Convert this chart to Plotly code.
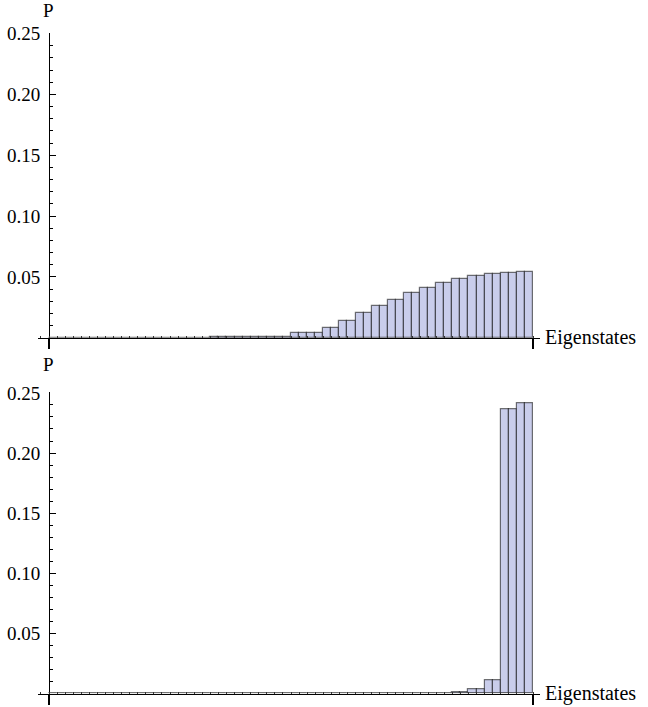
import plotly.graph_objects as go

# ---------------- data ----------------
states = list(range(1, 61))  # eigenstate index

p_top = ([0.0] * 20 +
         [0.0002, 0.0002, 0.0002, 0.0002,
          0.0004, 0.0004,
          0.0008, 0.0008, 0.0008, 0.0008,
          0.0036, 0.0036, 0.0036, 0.0036,
          0.0083, 0.0083,
          0.0140, 0.0140,
          0.0200, 0.0200,
          0.0258, 0.0258,
          0.0314, 0.0314,
          0.0366, 0.0366,
          0.0411, 0.0411,
          0.0452, 0.0452,
          0.0481, 0.0481,
          0.0507, 0.0507,
          0.0527, 0.0527,
          0.0535, 0.0535,
          0.0540, 0.0540])

p_bottom = ([0.0] * 46 +
            [0.0002, 0.0002, 0.0002, 0.0002,
             0.0010, 0.0010,
             0.0037, 0.0037,
             0.0112, 0.0112,
             0.2360, 0.2360,
             0.2417, 0.2417])

y_tickvals = [0.05, 0.10, 0.15, 0.20, 0.25]
y_ticktext = ["0.05", "0.10", "0.15", "0.20", "0.25"]

# ---------------- style ----------------
W, H = 648, 707
FONT = "Liberation Serif, Times New Roman, serif"
FILL = "rgb(201,205,235)"
EDGE = "rgba(0,0,0,0.55)"

fig = go.Figure()

x_pos = [s - 0.5 for s in states]

fig.add_trace(go.Bar(x=x_pos, y=p_top, width=1, marker=dict(color=FILL, line=dict(color=EDGE, width=1.2)),
                     xaxis="x", yaxis="y", showlegend=False, hoverinfo="skip"))
fig.add_trace(go.Bar(x=x_pos, y=p_bottom, width=1, marker=dict(color=FILL, line=dict(color=EDGE, width=1.2)),
                     xaxis="x2", yaxis="y2", showlegend=False, hoverinfo="skip"))

x_left_px, x_right_px = 38, 540
y_axis_px = 49
bar0_px, bar60_px = 49, 533
ppu = (bar60_px - bar0_px) / 60.0
xr = [-(bar0_px - x_left_px) / ppu, 60 + (x_right_px - bar60_px) / ppu]

def xaxis_cfg(anchor):
    return dict(domain=[x_left_px / W, x_right_px / W], range=xr, anchor=anchor,
                showline=True, linecolor="black", linewidth=1, zeroline=False, showgrid=False,
                tickmode="array", tickvals=[0, 60], ticks="outside", ticklen=10, tickwidth=2,
                tickcolor="black", showticklabels=False,
                minor=dict(tickmode="linear", tick0=0, dtick=1, ticks="inside", ticklen=2,
                           tickcolor="#333", tickwidth=1, showgrid=False),
                automargin=False, fixedrange=True)

def yaxis_cfg(dom):
    return dict(domain=dom, range=[0, 0.2505], anchor="free", position=y_axis_px / W,
                showline=True, linecolor="black", linewidth=1, zeroline=False, showgrid=False,
                tickmode="array", tickvals=y_tickvals, ticktext=y_ticktext,
                ticks="inside", ticklen=6, tickwidth=1, tickcolor="black",
                minor=dict(tickmode="linear", tick0=0, dtick=0.01, ticks="inside", ticklen=3,
                           tickcolor="black", tickwidth=1, showgrid=False),
                tickfont=dict(family=FONT, size=19, color="black"),
                ticklabelstandoff=5, automargin=False, fixedrange=True)

top_dom = [1 - 337.7 / H, 1 - 33 / H]
bot_dom = [1 - 693.5 / H, 1 - 392.3 / H]

fig.update_layout(
    template="none",
    width=W, height=H,
    margin=dict(l=0, r=0, t=0, b=0),
    paper_bgcolor="white", plot_bgcolor="white",
    bargap=0,
    font=dict(family=FONT, color="black"),
    xaxis=xaxis_cfg("y"),
    yaxis=yaxis_cfg(top_dom),
    xaxis2=xaxis_cfg("y2"),
    yaxis2=yaxis_cfg(bot_dom),
    showlegend=False,
)

ann_font = dict(family=FONT, size=19, color="black")
for ytop, ybase in [(11, 337.7), (364, 693.5)]:
    fig.add_annotation(text="P", xref="paper", yref="paper", x=48 / W, y=1 - ytop / H,
                       xanchor="center", yanchor="middle", showarrow=False, font=ann_font)
    fig.add_annotation(text="Eigenstates", xref="paper", yref="paper", x=543 / W, y=1 - ybase / H,
                       xanchor="left", yanchor="middle", showarrow=False,
                       font=dict(family=FONT, size=20, color="black"))

fig.write_html("out.html", config={"displayModeBar": False},
               post_script="document.body.style.margin='0';document.body.style.overflow='hidden';")
